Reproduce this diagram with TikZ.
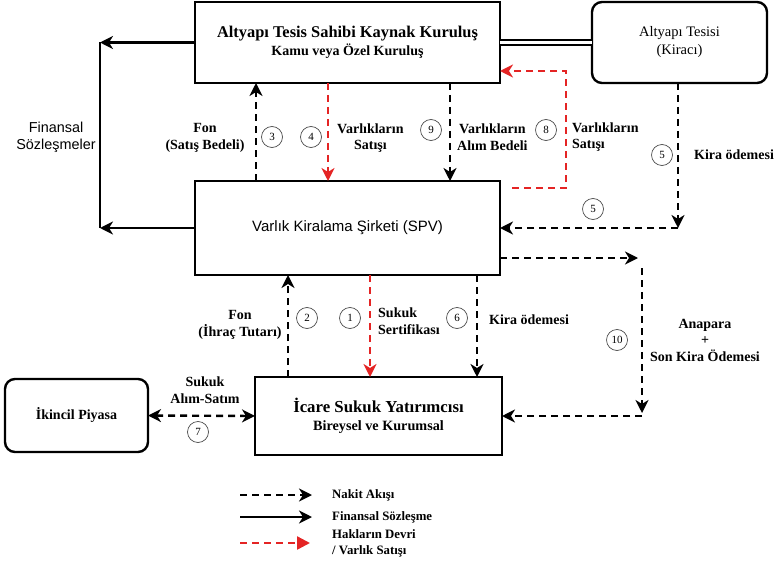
\documentclass[tikz,border=0pt]{standalone}
\usepackage{fontspec}
\setmainfont{Liberation Serif}
\setsansfont{Liberation Sans}
\usetikzlibrary{arrows.meta}
\definecolor{redd}{RGB}{228,36,36}
\begin{document}
\begin{tikzpicture}[x=1pt,y=-1pt,
  box/.style={draw,line width=2.4pt,minimum width=#1,inner sep=0pt,outer sep=0pt,align=center},
  rbox/.style={box=#1,rounded corners=10pt},
  tip/.style={-{Stealth[length=13pt,width=13pt,inset=4pt]}},
  cash/.style={tip,line width=2.4pt,dash pattern=on 7pt off 5pt},
  redl/.style={cash,draw=redd,color=redd},
  fin/.style={tip,line width=2.4pt},
  circ/.style={circle,draw=black!70,line width=0.7pt,minimum size=21pt,inner sep=0pt,font=\fontsize{11}{12}\selectfont},
  lab/.style={font=\bfseries\fontsize{14}{16.5}\selectfont,align=center,inner sep=1pt},
  labl/.style={lab,align=left,anchor=west}]
\useasboundingbox (0,0) rectangle (778,564);
% boxes
\node[box=305pt,minimum height=81pt,font=\bfseries\fontsize{14}{18.5}\selectfont] (top) at (347.5,42.5)
  {{\fontsize{16.4}{18.5}\selectfont Altyapı Tesis Sahibi Kaynak Kuruluş}\\Kamu veya Özel Kuruluş};
\node[rbox=175pt,minimum height=81pt,font=\fontsize{14.5}{18}\selectfont] (tes) at (679.5,42.5)
  {Altyapı Tesisi\\(Kiracı)};
\node[box=305pt,minimum height=94pt,font=\sffamily\fontsize{15}{17}\selectfont] (spv) at (347.5,228)
  {Varlık Kiralama Şirketi (SPV)};
\node[box=247pt,minimum height=78pt,font=\bfseries\fontsize{14.2}{18.5}\selectfont] (inv) at (378.5,416)
  {{\fontsize{16.8}{18.5}\selectfont İcare Sukuk Yatırımcısı}\\Bireysel ve Kurumsal};
\node[rbox=143pt,minimum height=73pt,font=\bfseries\fontsize{14}{16}\selectfont] (ik) at (76.5,415.5)
  {İkincil Piyasa};
% coordinates
\coordinate (fa) at (100,42.5);
\coordinate (fb) at (100,228);
\coordinate (x3) at (256,0);
\coordinate (x4) at (328,0);
\coordinate (x9) at (450,0);
\coordinate (x2) at (288,0);
\coordinate (x1) at (370,0);
\coordinate (x6) at (477,0);
\coordinate (x5) at (678,0);
\coordinate (k5) at (678,228);
\coordinate (r8s) at (512,188);
\coordinate (r8c) at (566,188);
\coordinate (r8d) at (566,71);
\coordinate (y10) at (0,258);
\coordinate (k10a) at (638,258);
\coordinate (k10b) at (642,268);
\coordinate (k10c) at (642,413);
% financial contracts
\draw[fin] (top.west) -- (fa);
\draw[line width=2.4pt] (fa) -- (fb);
\draw[fin] (spv.west) -- (fb);
\node[font=\sffamily\fontsize{14.4}{17}\selectfont,align=center] (fs) at (56,137) {Finansal\\Sözleşmeler};
% double line
\draw[double,double distance=3pt,line width=2pt] (top.east) -- (tes.west);
% vertical arrows upper
\draw[cash] (x3 |- spv.north) -- (x3 |- top.south);
\draw[redl] (x4 |- top.south) -- (x4 |- spv.north);
\draw[cash] (x9 |- top.south) -- (x9 |- spv.north);
\draw[redl] (r8s) -- (r8c) -- (r8d) -- (top.east |- r8d);
\node[circ] (c3) at (272,137) {3};
\node[circ] (c4) at (311,137) {4};
\node[circ] (c9) at (431,130) {9};
\node[circ] (c8) at (546,130) {8};
\node[lab] (l3) at (205,138) {Fon\\(Satış Bedeli)};
\node[lab,anchor=west] (l4) at (336,138) {Varlıkların\\Satışı};
\node[lab,anchor=west] (l9) at (456,137) {Varlıkların\\Alım Bedeli};
\node[labl] (l8) at (571,137) {Varlıkların\\Satışı};
% 5
\draw[cash] (x5 |- tes.south) -- (k5);
\draw[cash] (k5) -- (spv.east);
\node[circ] (c5a) at (662,155) {5};
\node[labl] (l5) at (693,155) {Kira ödemesi};
\node[circ] (c5b) at (593,209) {5};
% 10
\draw[cash] (spv.east |- y10) -- (k10a);
\draw[cash] (k10b) -- (k10c);
\draw[cash] (k10c |- inv.east) -- (inv.east);
\node[circ] (c10) at (617,340) {10};
\node[lab] (l10) at (705,340) {Anapara\\+\\Son Kira Ödemesi};
% lower vertical arrows
\draw[cash] (x2 |- inv.north) -- (x2 |- spv.south);
\draw[redl] (x1 |- spv.south) -- (x1 |- inv.north);
\draw[cash] (x6 |- spv.south) -- (x6 |- inv.north);
\node[circ] (c2) at (307,318) {2};
\node[circ] (c1) at (350,318) {1};
\node[circ] (c6) at (457,318) {6};
\node[lab] (l2) at (240,325) {Fon\\(İhraç Tutarı)};
\node[labl] (l1) at (377,321) {Sukuk\\Sertifikası};
\node[labl] (l6) at (488,320) {Kira ödemesi};
% 7
\draw[cash,{Stealth[length=13pt,width=13pt,inset=4pt]}-{Stealth[length=13pt,width=13pt,inset=4pt]}] (ik.east) -- (inv.west);
\node[lab] (l7) at (205,390) {Sukuk\\Alım-Satım};
\node[circ] (c7) at (198,432) {7};
% legend
\coordinate (g1a) at (240,495); \coordinate (g1b) at (312,495);
\coordinate (g2a) at (240,517); \coordinate (g2b) at (312,517);
\coordinate (g3a) at (240,543); \coordinate (g3b) at (310,543);
\draw[cash] (g1a) -- (g1b);
\draw[fin] (g2a) -- (g2b);
\draw[redl,-{Triangle[length=13pt,width=13pt]}] (g3a) -- (g3b);
\node[labl,font=\bfseries\fontsize{12.8}{15}\selectfont] (n1) at (331,495) {Nakit Akışı};
\node[labl,font=\bfseries\fontsize{12.8}{15}\selectfont] (n2) at (331,517) {Finansal Sözleşme};
\node[labl,font=\bfseries\fontsize{12.8}{16}\selectfont] (n3) at (331,543) {Hakların Devri\\/ Varlık Satışı};
\end{tikzpicture}
\end{document}
